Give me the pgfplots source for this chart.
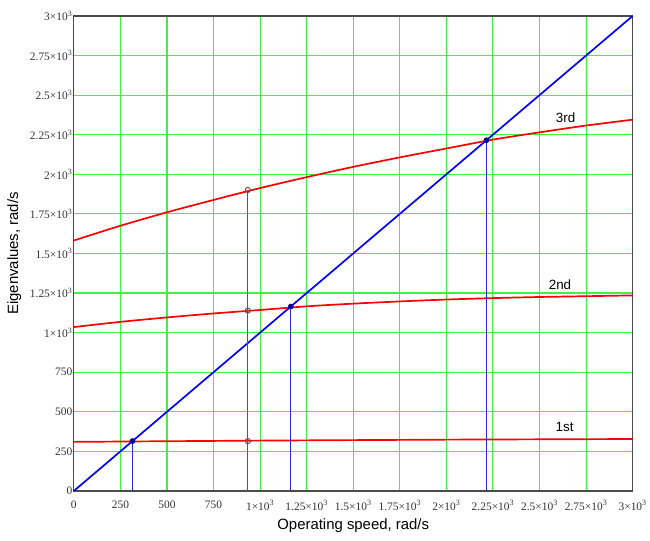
\documentclass[border=0pt]{standalone}
\usepackage{pgfplots}
\pgfplotsset{compat=1.18}
\usepackage{fontspec}
\setmainfont{Liberation Serif}
\newfontfamily\arial{Liberation Sans}
\definecolor{gridgreen}{RGB}{60,245,60}
\definecolor{vblue}{RGB}{40,40,210}
\begin{document}
\begin{tikzpicture}[x=1bp,y=1bp]
\begin{axis}[
  scale only axis, width=560bp, height=476bp,
  xmin=0, xmax=3000, ymin=0, ymax=3000,
  xtick={0,250,...,3000}, ytick={0,250,...,3000},
  xticklabels={0,250,500,750,1×10\textsuperscript{3},1.25×10\textsuperscript{3},1.5×10\textsuperscript{3},1.75×10\textsuperscript{3},2×10\textsuperscript{3},2.25×10\textsuperscript{3},2.5×10\textsuperscript{3},2.75×10\textsuperscript{3},3×10\textsuperscript{3}},
  yticklabels={0,250,500,750,1×10\textsuperscript{3},1.25×10\textsuperscript{3},1.5×10\textsuperscript{3},1.75×10\textsuperscript{3},2×10\textsuperscript{3},2.25×10\textsuperscript{3},2.5×10\textsuperscript{3},2.75×10\textsuperscript{3},3×10\textsuperscript{3}},
  tick label style={font=\fontsize{11.5}{12}\selectfont, text=black!80},
  yticklabel style={xshift=2bp},
  xticklabel style={yshift=-6bp},
  major tick length=0pt,
  grid=major,
  major grid style={gridgreen, line width=1.1bp},
  axis line style={black!70, line width=1.2bp},
  xlabel={\arial Operating speed, rad/s},
  ylabel={\arial Eigenvalues, rad/s},
  label style={font=\fontsize{15}{16}\selectfont},
  xlabel style={yshift=-2bp},
  ylabel style={yshift=2bp},
  clip=false,
]
% 3rd
\addplot[red, line width=1.7bp, smooth] coordinates {
(0,1582) (250,1675) (500,1760) (750,1838) (1000,1913) (1250,1982) (1500,2047) (1750,2107) (2000,2163) (2250,2219) (2500,2265) (2750,2308) (3000,2345)};
% 2nd
\addplot[red, line width=1.7bp, smooth] coordinates {
(0,1035) (250,1068) (500,1096) (750,1121) (1000,1143) (1250,1166) (1500,1183) (1750,1197) (2000,1209) (2250,1218) (2500,1225) (2750,1230) (3000,1235)};
% 1st
\addplot[red, line width=1.7bp] coordinates {
(0,310) (1000,318) (2000,324) (3000,328)};
% y = x
\addplot[blue, line width=1.7bp] coordinates {(0,0) (3000,3000)};
% blue verticals
\addplot[vblue, line width=1.1bp] coordinates {(315,0) (315,315)};
\addplot[vblue, line width=1.1bp] coordinates {(1165,0) (1165,1165)};
\addplot[vblue, line width=1.1bp] coordinates {(2215,0) (2215,2215)};
\addplot[only marks, mark=*, mark size=2.6bp, blue!60!black] coordinates {(315,315) (1165,1165) (2215,2215)};
% black vertical
\addplot[black!65, line width=1.2bp] coordinates {(934,0) (934,1901)};
\addplot[only marks, mark=o, mark size=2.6bp, black!65, line width=1bp] coordinates {(934,315) (934,1139) (934,1901)};
% labels
\node[font=\arial\fontsize{13.5}{14}\selectfont] at (axis cs:2640,2360) {3rd};
\node[font=\arial\fontsize{13.5}{14}\selectfont] at (axis cs:2610,1305) {2nd};
\node[font=\arial\fontsize{13.5}{14}\selectfont] at (axis cs:2635,405) {1st};
\path (rel axis cs:0,0) ++(-74bp,-50bp) coordinate (bl);
\path (rel axis cs:1,1) ++(16bp,16bp) coordinate (tr);
\path (bl) (tr);
\end{axis}
\end{tikzpicture}
\end{document}
